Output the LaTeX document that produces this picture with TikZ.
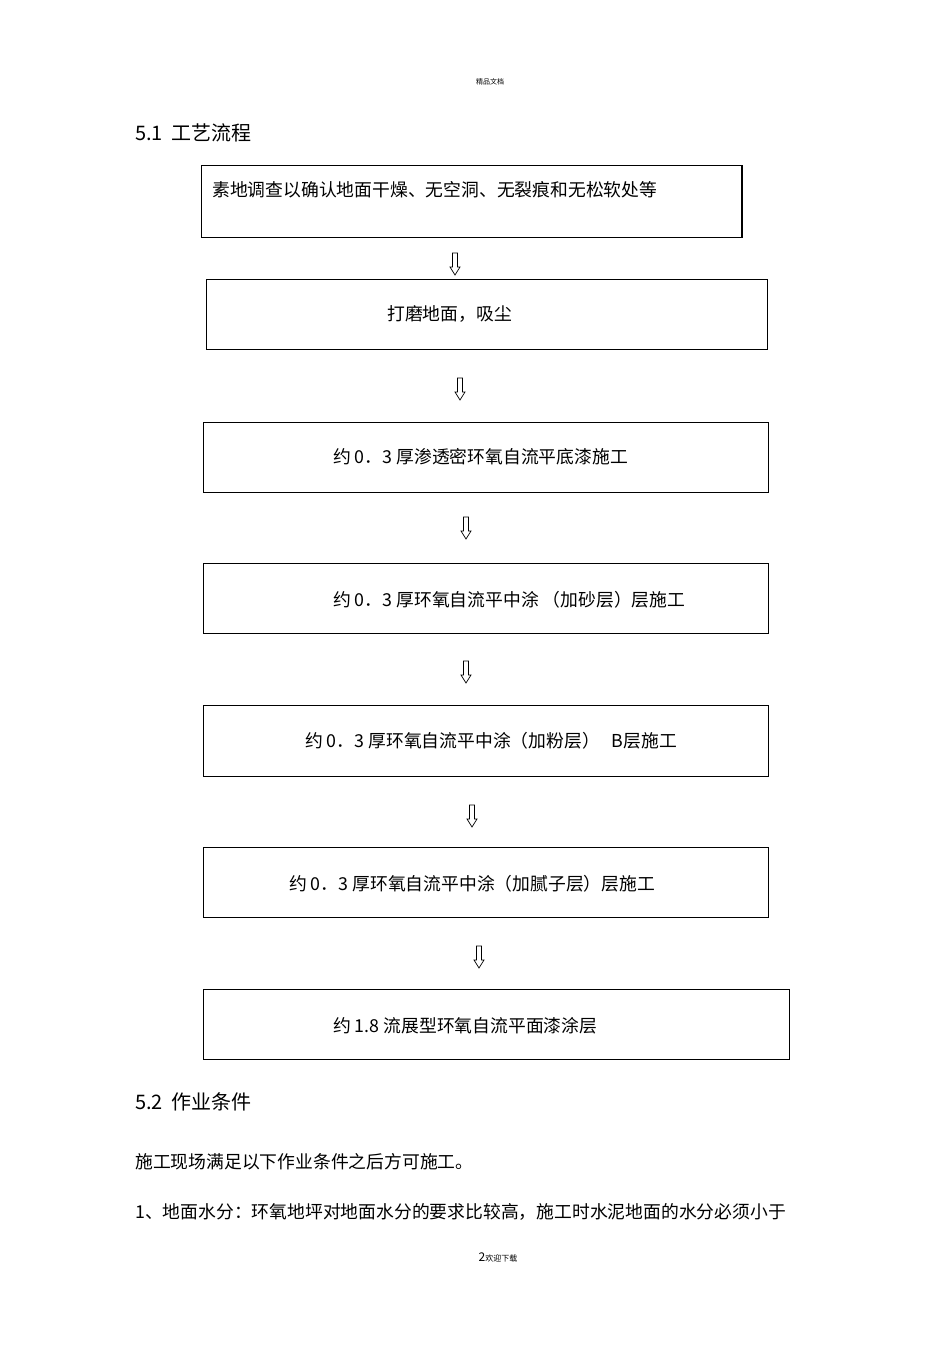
\documentclass[tikz,border=0pt]{standalone}
\usepackage{fontspec}
\setmainfont{Noto Sans CJK SC}
\begin{document}
\begin{tikzpicture}[x=1pt,y=-1pt,
 txt/.style={anchor=west,inner sep=0pt,font=\fontsize{17.8}{17.8}\selectfont}]
\useasboundingbox (0,0) rectangle (950,1345);
\newcommand\hollowarrow[2]{\draw[line width=0.7pt,fill=white] (#1-2.5,#2-11) -- (#1+2.5,#2-11) -- (#1+2.5,#2+3) -- (#1+5,#2+3) -- (#1,#2+11) -- (#1-5,#2+3) -- (#1-2.5,#2+3) -- cycle;}
\node[inner sep=0pt,font=\fontsize{7}{7}\selectfont] (hdr) at (490,82) {精品文档};
\node[txt,font=\fontsize{20}{20}\selectfont] (h1) at (135,133) {5.1\ \ 工艺流程};
\draw[line width=0.8pt] (201,165) rectangle (742,237);
\draw[line width=1.6pt] (742,165) -- (742,237);
\node[txt] (t1) at (212,190) {素地调查以确认地面干燥、无空洞、无裂痕和无松软处等};
\draw[line width=0.8pt] (206,279) rectangle (767,349);
\node[txt] (t2) at (387,314) {打磨地面，吸尘};
\draw[line width=0.8pt] (203,422) rectangle (768,492);
\node[txt] (t3) at (333,457) {约 0．3 厚渗透密环氧自流平底漆施工};
\draw[line width=0.8pt] (203,563) rectangle (768,633);
\node[txt] (t4) at (333,600) {约 0．3 厚环氧自流平中涂 （加砂层）层施工};
\draw[line width=0.8pt] (203,705) rectangle (768,776);
\node[txt] (t5) at (305,741) {约 0．3 厚环氧自流平中涂（加粉层）\ \ \ B层施工};
\draw[line width=0.8pt] (203,847) rectangle (768,917);
\node[txt] (t6) at (289,884) {约 0．3 厚环氧自流平中涂（加腻子层）层施工};
\draw[line width=0.8pt] (203,989) rectangle (789,1059);
\node[txt] (t7) at (333,1026) {约 1.8 流展型环氧自流平面漆涂层};
\hollowarrow{455}{264}
\hollowarrow{460}{389}
\hollowarrow{466}{528}
\hollowarrow{466}{672}
\hollowarrow{472}{816}
\hollowarrow{479}{957}
\node[txt,font=\fontsize{20}{20}\selectfont] (h2) at (135,1102) {5.2\ \ 作业条件};
\node[txt] (p1) at (135,1162) {施工现场满足以下作业条件之后方可施工。};
\node[txt] (p2) at (135,1212) {1、地面水分：环氧地坪对地面水分的要求比较高，施工时水泥地面的水分必须小于};
\node[inner sep=0pt] (ftr) at (498,1257) {\fontsize{12}{12}\selectfont 2\fontsize{8}{8}\selectfont 欢迎下载};
\end{tikzpicture}
\end{document}
